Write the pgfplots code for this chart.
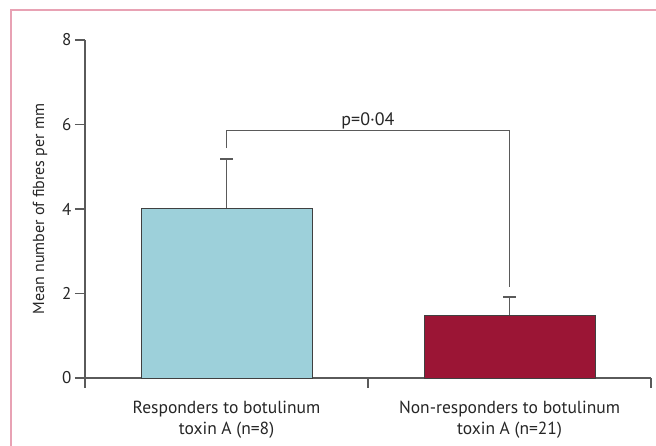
\documentclass[border=0pt]{standalone}
\usepackage{pgfplots}
\pgfplotsset{compat=1.18}
\usepackage{fontspec}
\setmainfont{PT Sans}
\definecolor{barblue}{HTML}{9DD0DA}
\definecolor{barred}{HTML}{9B1535}
\definecolor{axgray}{HTML}{5A5A5A}
\definecolor{framepink}{HTML}{E8A2B4}
\begin{document}
\begin{tikzpicture}[x=1pt,y=1pt]
\useasboundingbox (0,0) rectangle (656,446);
\draw[framepink, line width=2pt] (11,-2) -- (11,436) -- (660,436);
\begin{axis}[
  at={(85pt,68pt)}, anchor=south west,
  scale only axis, width=566pt, height=338pt,
  xmin=0, xmax=2, ymin=0, ymax=8,
  axis x line=bottom, axis y line=left,
  axis line style={-, axgray, line width=1.3pt},
  tick style={axgray, line width=1.3pt},
  tick align=outside,
  major tick length=10pt,
  ytick={0,2,4,6,8},
  xtick={0,1,2},
  xticklabels={},
  extra x ticks={0.5,1.5},
  extra x tick labels={{Responders to botulinum\\toxin A (n=8)},{Non-responders to botulinum\\toxin A (n=21)}},
  extra x tick style={major tick length=0pt, tick style={draw=none},
    xticklabel style={align=center, font=\fontsize{17.5}{21}\selectfont, text=black!85, yshift=-20pt}},
  yticklabel style={font=\fontsize{17}{20}\selectfont, text=black!85},
  /pgf/number format/assume math mode=true,
  ylabel={Mean number of fibres per mm},
  ylabel style={at={(axis description cs:-0.0795,0.5)}, anchor=center, font=\fontsize{16}{18}\selectfont, text=black!85},
  clip=false,
]
\addplot[ybar, bar width=171pt, bar shift=0pt, fill=barblue, draw=black!75, line width=0.8pt,
  error bars/.cd, y dir=plus, y explicit,
  error bar style={axgray, line width=1.3pt},
  error mark options={rotate=90, mark size=6.5pt, axgray, line width=1.3pt}]
  coordinates {(0.5,4.02) +- (0,1.16)};
\addplot[ybar, bar width=171pt, bar shift=0pt, fill=barred, draw=black!75, line width=0.8pt,
  error bars/.cd, y dir=plus, y explicit,
  error bar style={axgray, line width=1.3pt},
  error mark options={rotate=90, mark size=6.5pt, axgray, line width=1.3pt}]
  coordinates {(1.5,1.49) +- (0,0.43)};
\draw[axgray, line width=1.3pt] (axis cs:0.5,5.44) -- (axis cs:0.5,5.85) -- (axis cs:1.5,5.85) -- (axis cs:1.5,2.15);
\node[font=\fontsize{18}{20}\selectfont, text=black!85, anchor=base] at (axis cs:1.0,5.98) {p=0·04};
\end{axis}
\end{tikzpicture}
\end{document}
